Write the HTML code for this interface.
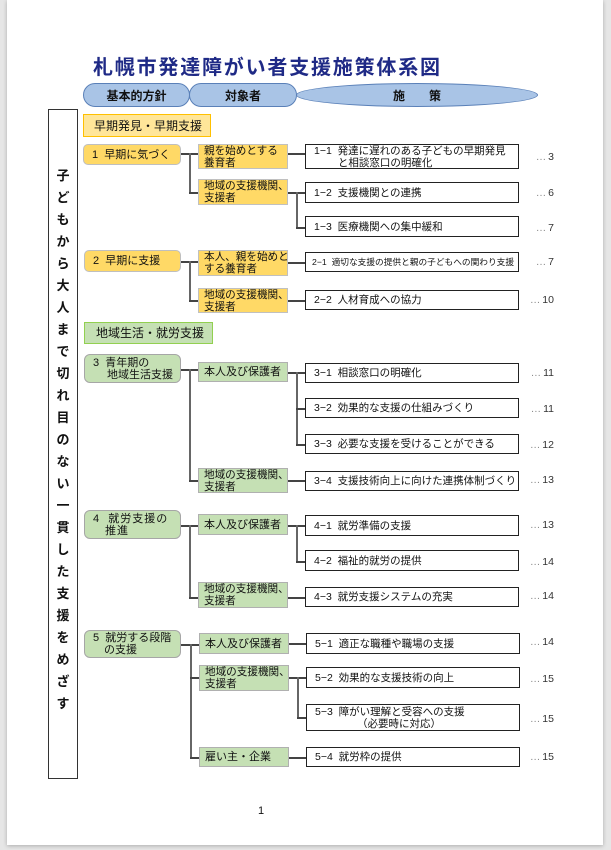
<!DOCTYPE html>
<html><head><meta charset="utf-8"><style>
body{margin:0;width:611px;height:850px;background:#e6e6e6;position:relative;overflow:hidden;font-family:"Liberation Sans","Noto Sans CJK JP",sans-serif;color:#111}
.page{position:absolute;left:7px;top:0;width:596px;height:845px;background:#fff;box-shadow:0 1px 4px rgba(0,0,0,.25)}
.a{position:absolute;box-sizing:border-box}
.t{position:absolute;box-sizing:border-box;font-size:10.5px;line-height:12px;display:flex;align-items:center;padding-left:9px;white-space:nowrap;overflow:hidden}
.l1y{background:#ffd966;border:1.5px solid #bfbfbf;border-radius:5px;font-size:11px;padding-left:8px}
.l1g{background:#c5e0b4;border:1.5px solid #a6a6a6;border-radius:6px;font-size:11px;padding-left:8px}
.l2y{background:#ffd966;border:1.5px solid #c0c0c0;padding-left:5px;font-size:10.6px}
.l2g{background:#c5e0b4;border:1.5px solid #b0b0b0;padding-left:5px;font-size:10.6px}
.l3{background:#fff;border:1.5px solid #222;padding-left:8px}
.pn{position:absolute;font-size:10.5px;color:#333;width:40px;text-align:right;left:514px}
.pn span{color:#888;letter-spacing:-1px}
.h{position:absolute;background:#444;height:1.5px}
.v{position:absolute;background:#666;width:1.5px}
.pill{position:absolute;top:83px;height:24px;background:#a9c4e6;border:1.2px solid #5a80b8;border-radius:50%;box-sizing:border-box;font-weight:bold;font-size:12px;display:flex;align-items:center;justify-content:center}
</style></head><body><div class="page"></div>
<div class="a" style="left:93px;top:51px;font-size:20px;font-weight:bold;color:#1f2a86;letter-spacing:1.8px;white-space:nowrap">札幌市発達障がい者支援施策体系図</div>
<div class="pill" style="left:83px;width:107px;border-radius:12px/12px">基本的方針</div>
<div class="pill" style="left:189px;width:108px;border-radius:12px/12px">対象者</div>
<div class="pill" style="left:296px;width:242px">施&emsp;&emsp;策</div>
<div class="a" style="left:48px;top:109px;width:30px;height:670px;border:1.5px solid #333"></div>
<div class="a" style="left:55px;top:165px;width:16px;font-size:13px;line-height:22px;text-align:center;font-weight:bold">子どもから大人まで切れ目のない一貫した支援をめざす</div>

<div class="t" style="left:83px;top:114px;width:128px;height:23px;background:#ffe699;border:1.5px solid #ffc000;font-size:12px;padding-left:10px">早期発見・早期支援</div>
<div class="t" style="left:84px;top:322px;width:129px;height:22px;background:#c5e0b4;border:1.5px solid #92d050;font-size:12px;padding-left:11px">地域生活・就労支援</div>

<!-- group 1 -->
<div class="t l1y" style="left:83px;top:144px;width:98px;height:21px">1&nbsp;&nbsp;早期に気づく</div>
<div class="t l2y" style="left:198px;top:144px;width:90px;height:25px">親を始めとする<br>養育者</div>
<div class="t l2y" style="left:198px;top:179px;width:90px;height:26px">地域の支援機関、<br>支援者</div>
<div class="t l3" style="left:305px;top:144px;width:214px;height:25px">1−1&nbsp;&nbsp;発達に遅れのある子どもの早期発見<br>&emsp;&emsp;&nbsp;と相談窓口の明確化</div>
<div class="t l3" style="left:305px;top:182px;width:214px;height:21px">1−2&nbsp;&nbsp;支援機関との連携</div>
<div class="t l3" style="left:305px;top:216px;width:214px;height:21px">1−3&nbsp;&nbsp;医療機関への集中緩和</div>
<div class="h" style="left:181px;top:153px;width:17px"></div><div class="v" style="left:189px;top:153px;height:40px"></div><div class="h" style="left:189px;top:192px;width:9px"></div>
<div class="h" style="left:288px;top:153px;width:17px"></div>
<div class="h" style="left:288px;top:192px;width:17px"></div><div class="v" style="left:296px;top:192px;height:36px"></div><div class="h" style="left:296px;top:227px;width:9px"></div>
<div class="pn" style="top:151px"><span>…</span> 3</div>
<div class="pn" style="top:187px"><span>…</span> 6</div>
<div class="pn" style="top:222px"><span>…</span> 7</div>

<!-- group 2 -->
<div class="t l1y" style="left:84px;top:250px;width:97px;height:22px">2&nbsp;&nbsp;早期に支援</div>
<div class="t l2y" style="left:198px;top:250px;width:90px;height:26px">本人、親を始めと<br>する養育者</div>
<div class="t l2y" style="left:198px;top:288px;width:90px;height:25px">地域の支援機関、<br>支援者</div>
<div class="t l3" style="left:305px;top:252px;width:214px;height:20px;font-size:8.7px;padding-left:6px">2−1&nbsp;&nbsp;適切な支援の提供と親の子どもへの関わり支援</div>
<div class="t l3" style="left:305px;top:290px;width:214px;height:20px">2−2&nbsp;&nbsp;人材育成への協力</div>
<div class="h" style="left:181px;top:261px;width:17px"></div><div class="v" style="left:189px;top:261px;height:40px"></div><div class="h" style="left:189px;top:300px;width:9px"></div>
<div class="h" style="left:288px;top:262px;width:17px"></div>
<div class="h" style="left:288px;top:300px;width:17px"></div>
<div class="pn" style="top:256px"><span>…</span> 7</div>
<div class="pn" style="top:294px"><span>…</span> 10</div>

<!-- group 3 -->
<div class="t l1g" style="left:84px;top:354px;width:97px;height:29px">3&nbsp;&nbsp;青年期の<br>&emsp;&nbsp;地域生活支援</div>
<div class="t l2g" style="left:198px;top:362px;width:90px;height:20px;font-size:11px">本人及び保護者</div>
<div class="t l2g" style="left:198px;top:468px;width:90px;height:25px">地域の支援機関、<br>支援者</div>
<div class="t l3" style="left:305px;top:363px;width:214px;height:20px">3−1&nbsp;&nbsp;相談窓口の明確化</div>
<div class="t l3" style="left:305px;top:398px;width:214px;height:20px">3−2&nbsp;&nbsp;効果的な支援の仕組みづくり</div>
<div class="t l3" style="left:305px;top:434px;width:214px;height:20px">3−3&nbsp;&nbsp;必要な支援を受けることができる</div>
<div class="t l3" style="left:305px;top:471px;width:214px;height:20px">3−4&nbsp;&nbsp;支援技術向上に向けた連携体制づくり</div>
<div class="h" style="left:181px;top:369px;width:17px"></div><div class="v" style="left:189px;top:369px;height:112px"></div><div class="h" style="left:189px;top:480px;width:9px"></div>
<div class="h" style="left:288px;top:372px;width:17px"></div><div class="v" style="left:296px;top:372px;height:73px"></div><div class="h" style="left:296px;top:408px;width:9px"></div><div class="h" style="left:296px;top:444px;width:9px"></div>
<div class="h" style="left:288px;top:480px;width:17px"></div>
<div class="pn" style="top:367px"><span>…</span> 11</div>
<div class="pn" style="top:403px"><span>…</span> 11</div>
<div class="pn" style="top:439px"><span>…</span> 12</div>
<div class="pn" style="top:474px"><span>…</span> 13</div>

<!-- group 4 -->
<div class="t l1g" style="left:84px;top:510px;width:97px;height:29px;letter-spacing:1px">4&nbsp;&nbsp;就労支援の<br>&emsp;推進</div>
<div class="t l2g" style="left:198px;top:514px;width:90px;height:21px;font-size:11px">本人及び保護者</div>
<div class="t l2g" style="left:198px;top:582px;width:90px;height:26px">地域の支援機関、<br>支援者</div>
<div class="t l3" style="left:305px;top:515px;width:214px;height:21px">4−1&nbsp;&nbsp;就労準備の支援</div>
<div class="t l3" style="left:305px;top:550px;width:214px;height:21px">4−2&nbsp;&nbsp;福祉的就労の提供</div>
<div class="t l3" style="left:305px;top:587px;width:214px;height:20px">4−3&nbsp;&nbsp;就労支援システムの充実</div>
<div class="h" style="left:181px;top:525px;width:17px"></div><div class="v" style="left:189px;top:525px;height:73px"></div><div class="h" style="left:189px;top:597px;width:9px"></div>
<div class="h" style="left:288px;top:525px;width:17px"></div><div class="v" style="left:296px;top:525px;height:37px"></div><div class="h" style="left:296px;top:561px;width:9px"></div>
<div class="h" style="left:288px;top:597px;width:17px"></div>
<div class="pn" style="top:519px"><span>…</span> 13</div>
<div class="pn" style="top:556px"><span>…</span> 14</div>
<div class="pn" style="top:590px"><span>…</span> 14</div>

<!-- group 5 -->
<div class="t l1g" style="left:84px;top:630px;width:97px;height:28px">5&nbsp;&nbsp;就労する段階<br>&emsp;の支援</div>
<div class="t l2g" style="left:199px;top:633px;width:90px;height:21px;font-size:11px">本人及び保護者</div>
<div class="t l2g" style="left:199px;top:665px;width:90px;height:26px">地域の支援機関、<br>支援者</div>
<div class="t l2g" style="left:199px;top:747px;width:90px;height:20px;font-size:11px">雇い主・企業</div>
<div class="t l3" style="left:306px;top:633px;width:214px;height:21px">5−1&nbsp;&nbsp;適正な職種や職場の支援</div>
<div class="t l3" style="left:306px;top:667px;width:214px;height:21px">5−2&nbsp;&nbsp;効果的な支援技術の向上</div>
<div class="t l3" style="left:306px;top:704px;width:214px;height:27px">5−3&nbsp;&nbsp;障がい理解と受容への支援<br>&emsp;&emsp;&emsp;&emsp;（必要時に対応）</div>
<div class="t l3" style="left:306px;top:747px;width:214px;height:20px">5−4&nbsp;&nbsp;就労枠の提供</div>
<div class="h" style="left:181px;top:644px;width:18px"></div><div class="v" style="left:190px;top:644px;height:114px"></div><div class="h" style="left:190px;top:677px;width:9px"></div><div class="h" style="left:190px;top:757px;width:9px"></div>
<div class="h" style="left:289px;top:643px;width:17px"></div>
<div class="h" style="left:289px;top:677px;width:17px"></div><div class="v" style="left:297px;top:677px;height:41px"></div><div class="h" style="left:297px;top:717px;width:9px"></div>
<div class="h" style="left:289px;top:757px;width:17px"></div>
<div class="pn" style="top:636px"><span>…</span> 14</div>
<div class="pn" style="top:673px"><span>…</span> 15</div>
<div class="pn" style="top:713px"><span>…</span> 15</div>
<div class="pn" style="top:751px"><span>…</span> 15</div>

<div class="a" style="left:258px;top:805px;font-size:11px">1</div>
</body></html>
